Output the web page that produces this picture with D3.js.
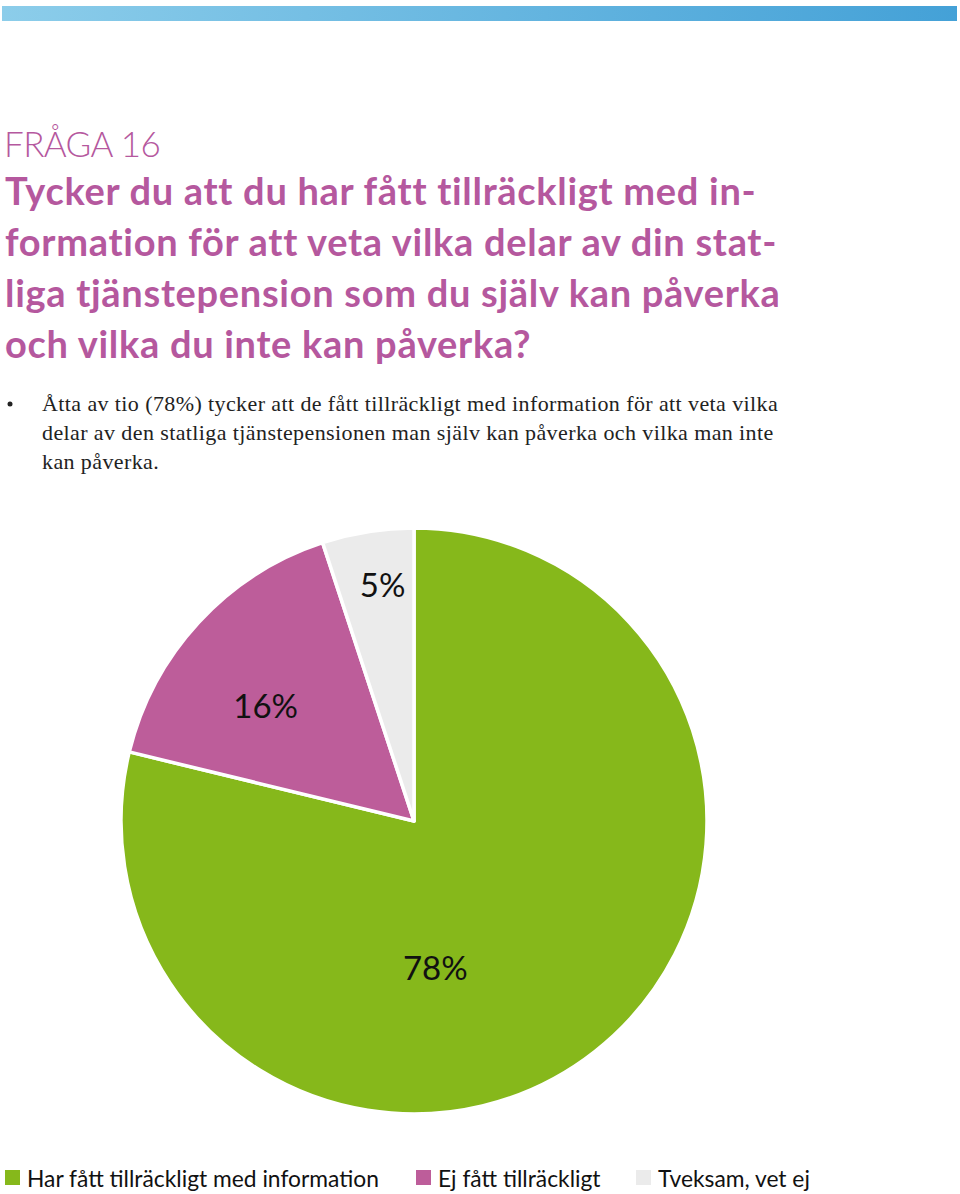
<!DOCTYPE html>
<meta charset="utf-8">
<style>
    body {
        margin: 0;
        background: #fff;
    }
    svg {
        display: block;
    }
    .title {
        font-family: Lato, "Open Sans", sans-serif;
        fill: #b5589e;
    }
    .body-text {
        font-family: "Liberation Serif", "DejaVu Serif", serif;
        font-size: 22px;
        letter-spacing: 0.4px;
        fill: #222;
    }
    .label {
        font-family: Lato, "Open Sans", sans-serif;
        font-size: 33px;
        fill: #111;
    }
    .legend text {
        font-family: Lato, "Open Sans", sans-serif;
        font-size: 22.8px;
        fill: #111;
    }
</style>
<body>
<script src="https://cdn.jsdelivr.net/npm/d3@7"></script>
<script>
    const categories = ['Har fått tillräckligt med information', 'Ej fått tillräckligt', 'Tveksam, vet ej'];
    const values = [78, 16, 5];
    const labels = ['78%', '16%', '5%'];
    const colors = ['#86b81b', '#bd5d9a', '#ebebeb'];

    const heading = 'FRÅGA 16';
    const question = [
        'Tycker du att du har fått tillräckligt med in-',
        'formation för att veta vilka delar av din stat-',
        'liga tjänstepension som du själv kan påverka',
        'och vilka du inte kan påverka?'
    ];
    const bullet = [
        'Åtta av tio (78%) tycker att de fått tillräckligt med information för att veta vilka',
        'delar av den statliga tjänstepensionen man själv kan påverka och vilka man inte',
        'kan påverka.'
    ];

    const width = 960;
    const height = 1194;

    const svg = d3.select('body')
        .append('svg')
        .attr('width', width)
        .attr('height', height);

    // blue band on top
    const grad = svg.append('defs').append('linearGradient')
        .attr('id', 'band');
    grad.append('stop').attr('offset', '0%').attr('stop-color', '#8ccdea');
    grad.append('stop').attr('offset', '100%').attr('stop-color', '#44a1d7');
    svg.append('rect')
        .attr('x', 2).attr('y', 6)
        .attr('width', 955).attr('height', 15)
        .attr('fill', 'url(#band)');

    // heading + question
    svg.append('text')
        .attr('class', 'title')
        .attr('x', 4).attr('y', 157)
        .style('font-size', '35px')
        .style('font-weight', 300)
        .style('letter-spacing', '-0.6px')
        .text(heading);

    svg.append('g').selectAll('text')
        .data(question)
        .enter().append('text')
        .attr('class', 'title')
        .attr('x', 5)
        .attr('y', (d, i) => 205 + i * 51)
        .style('font-size', '38px')
        .style('font-weight', 700)
        .style('letter-spacing', '0.7px')
        .text(d => d);

    // bullet text
    svg.append('circle')
        .attr('cx', 10).attr('cy', 404).attr('r', 2.5)
        .attr('fill', '#222');
    svg.append('g').selectAll('text')
        .data(bullet)
        .enter().append('text')
        .attr('class', 'body-text')
        .attr('x', 42)
        .attr('y', (d, i) => 411 + i * 29)
        .text(d => d);

    // pie
    const cx = 414, cy = 821, radius = 293;
    const pie = d3.pie().sort(null).value(d => d);
    const arc = d3.arc().innerRadius(0).outerRadius(radius);
    const arcs = pie(values);

    const chart = svg.append('g')
        .attr('class', 'pie')
        .attr('transform', 'translate(' + cx + ',' + cy + ')');

    chart.selectAll('path')
        .data(arcs)
        .enter().append('path')
        .attr('d', arc)
        .attr('fill', (d, i) => colors[i])
        .attr('stroke', '#fff')
        .attr('stroke-width', 3.5)
        .attr('stroke-linejoin', 'round');

    // label placement: angle shift (deg) and radius fraction per slice
    const labelShift = [30, -5, 1.5];
    const labelRadius = [0.51, 0.64, 0.81];
    chart.selectAll('.label')
        .data(arcs)
        .enter().append('text')
        .attr('class', 'label')
        .attr('text-anchor', 'middle')
        .attr('dy', '0.35em')
        .attr('x', (d, i) => {
            const a = (d.startAngle + d.endAngle) / 2 + labelShift[i] * Math.PI / 180;
            return Math.sin(a) * radius * labelRadius[i];
        })
        .attr('y', (d, i) => {
            const a = (d.startAngle + d.endAngle) / 2 + labelShift[i] * Math.PI / 180;
            return -Math.cos(a) * radius * labelRadius[i];
        })
        .text((d, i) => labels[i]);

    // legend
    const legendX = [5, 416, 636];
    const legend = svg.append('g')
        .attr('class', 'legend')
        .selectAll('g')
        .data(categories)
        .enter().append('g')
        .attr('transform', (d, i) => 'translate(' + legendX[i] + ',1170)');

    legend.append('rect')
        .attr('width', 15)
        .attr('height', 15)
        .attr('fill', (d, i) => colors[i]);

    legend.append('text')
        .attr('x', 22)
        .attr('y', 17)
        .text(d => d);
</script>
</body>
</html>
